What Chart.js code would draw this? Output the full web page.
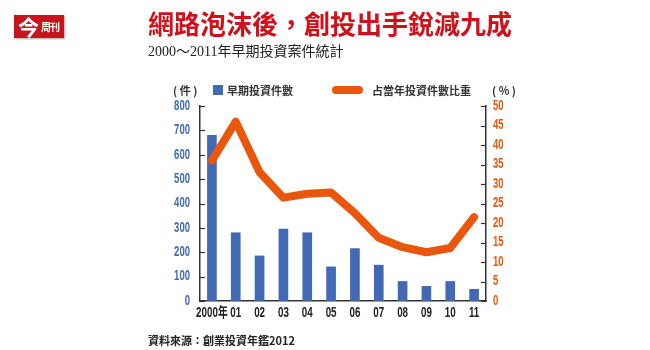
<!DOCTYPE html>
<html>
<head>
<meta charset="utf-8">
<script src="https://cdn.jsdelivr.net/npm/chart.js@4.4.1/dist/chart.umd.min.js"></script>
<style>
  html, body { margin: 0; padding: 0; background: #fff; }
  #wrap { position: relative; width: 650px; height: 350px; overflow: hidden; }
  #wrap canvas { position: absolute; left: 0; top: 0; }
  .abs { position: absolute; white-space: nowrap; }
  #logo {
    left: 14px; top: 15px; width: 50px; height: 23px;
    background: #c8141c; color: #fff; box-shadow: 1px 1px 2px rgba(0,0,0,0.35);
    font-family: "Noto Sans CJK TC", sans-serif; font-weight: bold;
  }
  #logo .big { position: absolute; left: 4px; top: -3px; font-size: 21px; line-height: 28px; }
  #logo .small { position: absolute; left: 27px; top: 5px; font-size: 10px; line-height: 14px; letter-spacing: -1px; }
  #title {
    left: 148px; top: 8px; font: bold 26px/30px "Noto Sans CJK TC", sans-serif; color: #d0111b;
  }
  #subtitle {
    left: 148px; top: 43px; font: 14px/18px "Liberation Serif", "Noto Sans CJK TC", serif; color: #222;
  }
  .leg { font: bold 11px/14px "Noto Sans CJK TC", sans-serif; color: #333; top: 83px; }
  .swatch { position: absolute; }
  #source { left: 148px; top: 333px; font: bold 11px/14px "Noto Sans CJK TC", sans-serif; color: #222; }
</style>
</head>
<body>
<div id="wrap">
  <canvas id="myChart" width="650" height="350"></canvas>
  <div id="logo" class="abs"><span class="big">今</span><span class="small">周刊</span></div>
  <div id="title" class="abs">網路泡沫後，創投出手銳減九成</div>
  <div id="subtitle" class="abs">2000～2011年早期投資案件統計</div>
  <div class="abs leg" style="left:173px">( 件 )</div>
  <div class="swatch" id="barSwatch" style="left:213px; top:85px; width:10px; height:10px;"></div>
  <div class="abs leg" style="left:227px" id="barLabel"></div>
  <div class="swatch" id="lineSwatch" style="left:332px; top:86px; width:31px; height:8px; border-radius:4px;"></div>
  <div class="abs leg" style="left:372px" id="lineLabel"></div>
  <div class="abs leg" style="left:492px">( % )</div>
  <div id="source" class="abs">資料來源：創業投資年鑑2012</div>
</div>
<script>
const years = ["2000年", "01", "02", "03", "04", "05", "06", "07", "08", "09", "10", "11"];
const earlyDeals = [680, 280, 185, 295, 280, 140, 215, 147, 80, 60, 80, 48];
const shareOfYear = [36, 46, 33, 26.5, 27.5, 27.8, 22.5, 16.2, 13.8, 12.5, 13.6, 21.5];
const dealsLabel = "早期投資件數";
const shareLabel = "占當年投資件數比重";

const blue = "#4169b4";
const orange = "#e8570c";

// legend swatches and labels (outside the canvas)
document.getElementById("barSwatch").style.background = blue;
document.getElementById("lineSwatch").style.background = orange;
document.getElementById("barLabel").textContent = dealsLabel;
document.getElementById("lineLabel").textContent = shareLabel;

// draw text squeezed horizontally, the printed chart uses a condensed face
function narrowText(ctx, text, x, y, align, squeeze) {
  ctx.save();
  ctx.translate(x, y);
  ctx.scale(squeeze, 1);
  ctx.textAlign = align;
  ctx.textBaseline = "middle";
  ctx.fillText(text, 0, 0);
  ctx.restore();
}

// inward tick marks + condensed tick labels, placed from the chart's scales
const axisDecor = {
  id: "axisDecor",
  afterDraw(chart) {
    const ctx = chart.ctx;
    const { x, y, y2 } = chart.scales;
    ctx.save();
    ctx.strokeStyle = "#333";
    ctx.lineWidth = 1.2;
    [y, y2].forEach((scale) => {
      const left = scale === y;
      const x0 = left ? scale.right : scale.left;
      const dir = left ? 1 : -1;
      scale.ticks.forEach((t) => {
        const py = Math.round(scale.getPixelForValue(t.value)) + 0.5;
        ctx.beginPath();
        ctx.moveTo(x0, py);
        ctx.lineTo(x0 + dir * 5, py);
        ctx.stroke();
      });
    });

    ctx.font = "bold 14px 'Liberation Sans', sans-serif";
    ctx.fillStyle = blue;
    y.ticks.forEach((t) => {
      narrowText(ctx, String(t.value), y.right - 10, y.getPixelForValue(t.value), "right", 0.68);
    });
    ctx.fillStyle = orange;
    y2.ticks.forEach((t) => {
      narrowText(ctx, String(t.value), y2.left + 7, y2.getPixelForValue(t.value), "left", 0.68);
    });

    ctx.font = "bold 14px 'Liberation Sans', 'Noto Sans CJK TC', sans-serif";
    ctx.fillStyle = "#222";
    x.ticks.forEach((t, i) => {
      narrowText(ctx, years[t.value], x.getPixelForTick(i), x.top + 12, "center", 0.7);
    });
    ctx.restore();
  },
};

const ctx = document.getElementById("myChart").getContext("2d");
new Chart(ctx, {
  type: "bar",
  data: {
    labels: years,
    datasets: [
      {
        type: "line",
        label: shareLabel,
        data: shareOfYear,
        yAxisID: "y2",
        borderColor: orange,
        borderWidth: 8,
        borderCapStyle: "round",
        borderJoinStyle: "round",
        pointRadius: 0,
        tension: 0,
        order: 0,
      },
      {
        label: dealsLabel,
        data: earlyDeals,
        yAxisID: "y",
        backgroundColor: blue,
        barThickness: 9,
        order: 1,
      },
    ],
  },
  options: {
    responsive: false,
    animation: false,
    layout: { padding: { top: 106, left: 0, right: 0, bottom: 0 } },
    plugins: {
      legend: { display: false },
      tooltip: { enabled: false },
    },
    scales: {
      x: {
        grid: { display: false },
        border: { display: true, color: "#333", width: 1.5 },
        ticks: { display: false, autoSkip: false },
        afterFit: (s) => { s.height = 49; },
      },
      y: {
        position: "left",
        min: 0,
        max: 800,
        grid: { display: false, drawTicks: false },
        border: { display: true, color: "#333", width: 1.5 },
        ticks: { display: false, stepSize: 100 },
        afterFit: (s) => { s.width = 200; },
      },
      y2: {
        position: "right",
        min: 0,
        max: 50,
        grid: { display: false, drawTicks: false },
        border: { display: true, color: "#333", width: 1.5 },
        ticks: { display: false, stepSize: 5 },
        afterFit: (s) => { s.width = 164; },
      },
    },
  },
  plugins: [axisDecor],
});
</script>
</body>
</html>
